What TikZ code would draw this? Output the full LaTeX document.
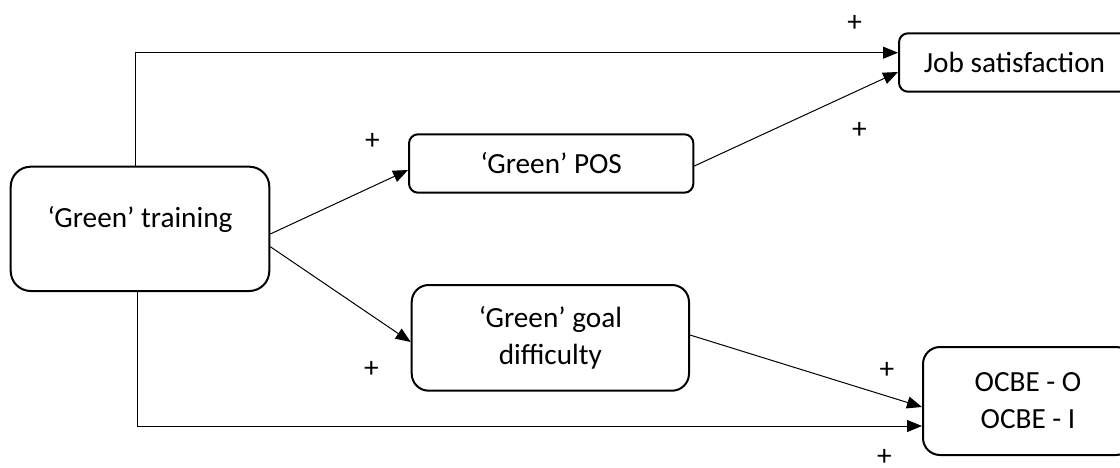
\documentclass[tikz,border=0pt]{standalone}
\usepackage{fontspec}
\setmainfont{Carlito}
\usetikzlibrary{arrows.meta}
\tikzset{
  txt/.style={font=\fontsize{29.25pt}{37pt}\selectfont},
  box/.style={draw, line width=2pt, inner sep=0pt, align=center, txt},
  conn/.style={line width=1pt},
  arr/.style={conn, -{Triangle[length=15pt,width=12pt]}},
  plus/.style={txt, inner sep=0pt}
}
\begin{document}
\begin{tikzpicture}[x=1pt, y=-1pt]
\useasboundingbox (0,0) rectangle (1120,468);
\clip (0,0) rectangle (1120,468);
\fill[white] (0,0) rectangle (1120,468);
% boxes
\node[box, rounded corners=20pt, minimum width=258.6pt, minimum height=124.3pt,
      text height=21pt, text depth=24.7pt] (train) at (140,228.85) {‘Green’ training};
\node[box, rounded corners=9pt, minimum width=284.3pt, minimum height=58.4pt,
      text height=21pt, text depth=0pt] (pos) at (551.2,163.5) {‘Green’ POS};
\node[box, rounded corners=9pt, minimum width=231pt, minimum height=58.4pt,
      text height=21pt, text depth=0pt] (job) at (1014.5,62.5) {Job satisfaction};
\node[box, rounded corners=17pt, minimum width=277.3pt, minimum height=105.7pt] (goal) at (550.35,337.85) {‘Green’ goal\\difficulty};
\node[box, rounded corners=17pt, minimum width=210pt, minimum height=108pt] (ocbe) at (1028,401) {OCBE - O\\OCBE - I};
% connectors
\draw[arr] (train.north -| 135,0) |- (job.west |- 0,52.7);
\draw[arr] (train.south -| 137.7,0) |- (ocbe.west |- 0,426);
\draw[arr] (train.east |- 0,234) -- (pos.west |- 0,170);
\draw[arr] (train.east |- 0,246.7) -- (goal.west |- 0,342);
\draw[arr] (pos.east |- 0,166) -- (job.west |- 0,72);
\draw[arr] (goal.east |- 0,335) -- (ocbe.west |- 0,407);
% plus signs
\node[plus] (p1) at (854.6,23.3) {+};
\node[plus] (p2) at (859.5,130.5) {+};
\node[plus] (p3) at (372.5,141.7) {+};
\node[plus] (p4) at (371.4,369) {+};
\node[plus] (p5) at (887,370.5) {+};
\node[plus] (p6) at (884.5,457) {+};
\end{tikzpicture}
\end{document}
